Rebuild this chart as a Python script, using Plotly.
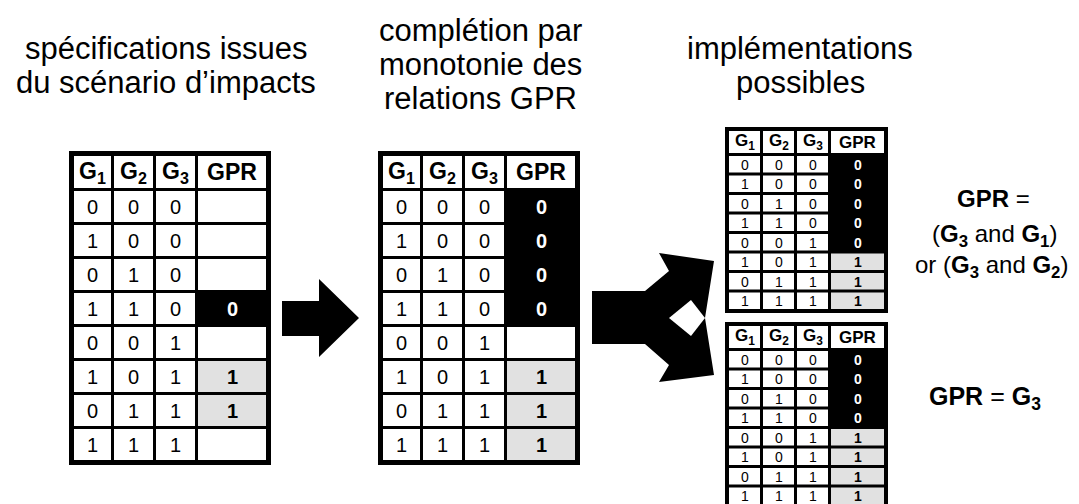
import plotly.graph_objects as go

W, H = 1079, 504
PAGE_OFFSET = 8  # default body margin of the html page
FONT = "Liberation Sans, Arial, Helvetica, sans-serif"

# ---- truth-table data ----
G1 = [0, 1, 0, 1, 0, 1, 0, 1]
G2 = [0, 0, 1, 1, 0, 0, 1, 1]
G3 = [0, 0, 0, 0, 1, 1, 1, 1]
GPR_spec = [None, None, None, 0, None, 1, 1, None]     # from impact scenario
GPR_mono = [0, 0, 0, 0, None, 1, 1, 1]                 # completed by monotony
GPR_impl_a = [0, 0, 0, 0, 0, 1, 1, 1]                  # (G3 and G1) or (G3 and G2)
GPR_impl_b = [0, 0, 0, 0, 1, 1, 1, 1]                  # G3
HEADERS = ["G<sub>1</sub>", "G<sub>2</sub>", "G<sub>3</sub>", "GPR"]

TITLE_1 = ["spécifications issues", "du scénario d’impacts"]
TITLE_2 = ["complétion par", "monotonie des", "relations GPR"]
TITLE_3 = ["implémentations", "possibles"]
FORMULA_A = ["<b>GPR</b> =",
             "(<b>G<sub>3</sub></b> and <b>G<sub>1</sub></b>)",
             "or (<b>G<sub>3</sub></b> and <b>G<sub>2</sub></b>)"]
FORMULA_B = ["<b>GPR</b> = <b>G<sub>3</sub></b>"]

GRAY = "#e1e1e1"
shapes = []
annotations = []


def text(x, y, s, size, color="black"):
    annotations.append(dict(x=x, y=y, xref="x", yref="y", text=s, showarrow=False,
                            xanchor="center", yanchor="middle", borderpad=0,
                            font=dict(family=FONT, size=size, color=color)))


def rect(x0, y0, x1, y1, color):
    shapes.append(dict(type="rect", xref="x", yref="y", x0=x0, y0=y0, x1=x1, y1=y1,
                       fillcolor=color, line=dict(width=0), layer="above"))


def draw_table(left, top, col_w, head_h, row_h, line, border, gpr, fs_head, fs_cell):
    n_rows = len(gpr)
    total_w = 2 * border + sum(col_w) + line * (len(col_w) - 1)
    total_h = 2 * border + head_h + n_rows * (row_h + line)
    rect(left, top, left + total_w, top + total_h, "black")
    xs = []
    x = left + border
    for w in col_w:
        xs.append((x, x + w))
        x += w + line
    ys = [(top + border, top + border + head_h)]
    y = top + border + head_h + line
    for _ in range(n_rows):
        ys.append((y, y + row_h))
        y += row_h + line
    # header
    for j, h in enumerate(HEADERS):
        x0, x1 = xs[j]
        y0, y1 = ys[0]
        rect(x0, y0, x1, y1, "white")
        text((x0 + x1) / 2, (y0 + y1) / 2, "<b>" + h + "</b>", fs_head)
    # body
    for i in range(n_rows):
        y0, y1 = ys[i + 1]
        for j, col in enumerate([G1, G2, G3]):
            x0, x1 = xs[j]
            rect(x0, y0, x1, y1, "white")
            text((x0 + x1) / 2, (y0 + y1) / 2 + 0.5, str(col[i]), fs_cell)
        x0, x1 = xs[3]
        v = gpr[i]
        if v is None:
            rect(x0, y0, x1, y1, "white")
        elif v == 0:
            text((x0 + x1) / 2, (y0 + y1) / 2 + 0.5, "<b>0</b>", fs_cell, "white")
        else:
            rect(x0, y0, x1, y1, GRAY)
            text((x0 + x1) / 2, (y0 + y1) / 2 + 0.5, "<b>1</b>", fs_cell)


# big tables
BIG_COLS = [37, 39, 39, 68]
draw_table(69, 151, BIG_COLS, 32, 31, 3, 5, GPR_spec, 23, 20)
draw_table(378, 151, BIG_COLS, 32, 31, 3, 5, GPR_mono, 23, 20)
# small tables
SMALL_COLS = [31, 31, 31, 53]
draw_table(725, 127, SMALL_COLS, 22, 16.5, 3, 4, GPR_impl_a, 17, 14)
draw_table(725, 322, SMALL_COLS, 22, 16.5, 3, 4, GPR_impl_b, 17, 14)


def path(points, color):
    d = "M" + " L".join(f"{px},{py}" for px, py in points) + " Z"
    shapes.append(dict(type="path", xref="x", yref="y", path=d,
                       fillcolor=color, line=dict(width=0), layer="above"))


# straight arrow (anchor + outline offsets)
ax, ay = 282, 318
ARROW = [(0, -17), (37, -17), (37, -39), (77, 0), (37, 39), (37, 18), (0, 18)]
path([(ax + dx, ay + dy) for dx, dy in ARROW], "black")

# forked arrow
fx, fy = 592, 318
FORK = [(0, -27), (53, -27), (77, -47), (67, -65), (122, -57), (113, 0),
        (122, 57), (67, 64), (77, 47), (53, 26), (0, 26)]
HOLE = [(77, 0), (99, -18), (113, 0), (99, 18)]
path([(fx + dx, fy + dy) for dx, dy in FORK], "black")
path([(fx + dx, fy + dy) for dx, dy in HOLE], "white")

# titles
TS = 31
for k, s in enumerate(TITLE_1):
    text(166, 48 + 34 * k, s, TS)
for k, s in enumerate(TITLE_2):
    text(480, 30 + 34 * k, s, TS)
for k, s in enumerate(TITLE_3):
    text(800, 48 + 34 * k, s, TS)

# formulas
FS = 24
for s, (x, y) in zip(FORMULA_A, [(993, 198), (994, 235), (991, 266)]):
    text(x, y, s, FS)
text(985, 398, FORMULA_B[0], 25)

o = PAGE_OFFSET
fig = go.Figure()
fig.add_trace(go.Scatter(x=[o, W], y=[o, H], mode="markers",
                         marker=dict(opacity=0), hoverinfo="skip", showlegend=False))
fig.update_layout(
    width=W, height=H, margin=dict(l=0, r=0, t=0, b=0),
    paper_bgcolor="white", plot_bgcolor="white",
    xaxis=dict(range=[o, W + o], visible=False, fixedrange=True),
    yaxis=dict(range=[H + o, o], visible=False, fixedrange=True),
    shapes=shapes, annotations=annotations, showlegend=False,
)
fig.write_html("out.html")
